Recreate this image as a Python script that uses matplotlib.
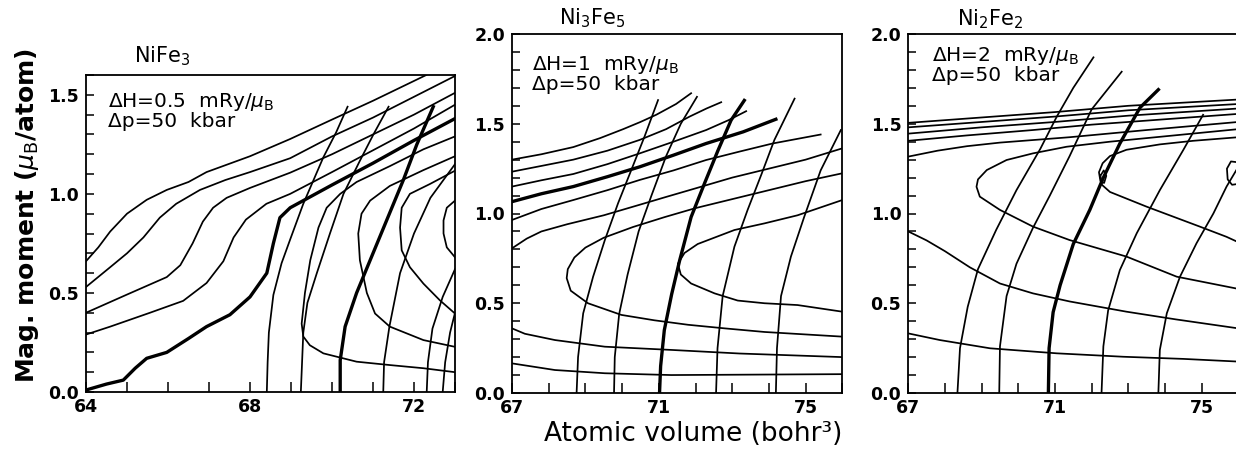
import matplotlib

matplotlib.use("Agg")
import matplotlib.pyplot as plt
from matplotlib.ticker import MultipleLocator

# --- NiFe3 panel (volume bohr^3, moment muB) ---------------------------------
# constant-field curves
nife3_h1 = [(64.0, 0.66), (64.3, 0.73), (64.59, 0.81), (65.0, 0.90), (65.48, 0.97), (65.97, 1.02),
            (66.5, 1.06), (66.94, 1.11), (68.0, 1.19), (68.98, 1.277), (70.0, 1.375), (71.0, 1.47),
            (72.3, 1.60)]
nife3_h2 = [(64.0, 0.53), (64.59, 0.63), (65.0, 0.70), (65.4, 0.78), (65.8, 0.88), (66.2, 0.95),
            (66.78, 1.02), (67.4, 1.07), (68.0, 1.11), (68.98, 1.18), (70.0, 1.29), (71.0, 1.385),
            (72.0, 1.49), (73.0, 1.595)]
nife3_h3 = [(64.0, 0.40), (64.98, 0.49), (65.97, 0.58), (66.3, 0.64), (66.6, 0.75), (66.85, 0.86),
            (67.1, 0.93), (67.43, 0.98), (68.0, 1.03), (68.98, 1.107), (70.0, 1.20), (71.0, 1.30),
            (72.0, 1.40), (73.0, 1.51)]
nife3_h4 = [(64.0, 0.29), (64.59, 0.33), (65.56, 0.40), (66.37, 0.46), (66.94, 0.55), (67.35, 0.66),
            (67.6, 0.78), (67.9, 0.87), (68.4, 0.95), (68.98, 1.0), (70.0, 1.11), (71.0, 1.22),
            (72.0, 1.33), (73.0, 1.45)]
nife3_h5 = [(64.0, 0.01), (64.5, 0.04), (64.91, 0.06), (65.2, 0.12), (65.48, 0.17), (65.97, 0.20),
            (66.5, 0.27), (66.94, 0.33), (67.51, 0.39), (68.0, 0.48), (68.41, 0.60), (68.57, 0.75),
            (68.73, 0.88), (68.98, 0.93), (70.0, 1.045), (71.0, 1.155), (72.0, 1.27), (73.0, 1.38)]
nife3_c1 = [(73.0, 1.29), (72.23, 1.225), (71.41, 1.14), (70.6, 1.06), (70.2, 1.0), (69.87, 0.93),
            (69.67, 0.83), (69.47, 0.665), (69.34, 0.50), (69.26, 0.345), (69.3, 0.28), (69.46, 0.236),
            (69.79, 0.195), (70.6, 0.153), (71.41, 0.136), (72.23, 0.12), (73.0, 0.10)]
nife3_c2 = [(73.0, 1.19), (72.23, 1.12), (71.41, 1.04), (70.93, 0.966), (70.72, 0.90), (70.64, 0.80),
            (70.68, 0.665), (70.85, 0.50), (71.05, 0.396), (71.41, 0.33), (72.23, 0.262), (73.0, 0.228)]
nife3_c3 = [(73.0, 1.117), (72.39, 1.05), (71.9, 1.0), (71.7, 0.93), (71.66, 0.83), (71.7, 0.715),
            (71.9, 0.63), (72.23, 0.547), (72.63, 0.463), (73.0, 0.396)]
nife3_c4 = [(73.0, 0.966), (72.8, 0.93), (72.72, 0.866), (72.72, 0.8), (72.8, 0.73), (73.0, 0.68)]
# constant-pressure curves
nife3_p1 = [(68.41, 0.0), (68.43, 0.15), (68.46, 0.30), (68.57, 0.49), (68.77, 0.65), (68.98, 0.77),
            (69.3, 0.95), (69.79, 1.185), (70.1, 1.31), (70.38, 1.44)]
nife3_p2 = [(69.24, 0.0), (69.27, 0.15), (69.3, 0.30), (69.4, 0.45), (69.63, 0.60), (69.95, 0.80),
            (70.28, 1.0), (70.68, 1.167), (71.01, 1.30), (71.38, 1.44)]
nife3_p3 = [(70.2, 0.0), (70.2, 0.16), (70.32, 0.33), (70.6, 0.50), (70.93, 0.665), (71.33, 0.865),
            (71.74, 1.07), (72.07, 1.25), (72.47, 1.44)]
nife3_p4 = [(71.25, 0.0), (71.27, 0.15), (71.4, 0.33), (71.66, 0.60), (72.0, 0.80), (72.4, 0.98),
            (73.0, 1.15)]
nife3_p5 = [(72.31, 0.0), (72.34, 0.15), (72.45, 0.32), (72.7, 0.48), (73.0, 0.62)]
nife3_p6 = [(72.7, 0.0), (72.76, 0.15), (72.88, 0.30), (73.0, 0.40)]

# --- Ni3Fe5 panel --------------------------------------------------------------
ni3fe5_h1 = [(67.0, 1.30), (67.8, 1.33), (68.67, 1.37), (69.4, 1.42), (70.03, 1.47), (70.5, 1.51),
             (70.93, 1.55), (71.47, 1.61), (71.88, 1.67)]
ni3fe5_h2 = [(67.0, 1.233), (67.8, 1.265), (68.67, 1.30), (69.6, 1.35), (70.48, 1.41), (71.2, 1.47),
             (71.84, 1.54), (72.3, 1.585), (72.7, 1.62)]
ni3fe5_h3 = [(67.0, 1.15), (67.8, 1.185), (68.67, 1.22), (69.6, 1.275), (70.48, 1.335), (71.4, 1.40),
             (72.29, 1.465), (72.9, 1.52), (73.38, 1.57)]
ni3fe5_h4 = [(67.0, 1.066), (67.8, 1.11), (68.67, 1.15), (69.6, 1.205), (70.48, 1.26), (71.4, 1.325),
             (72.29, 1.39), (73.3, 1.455), (74.19, 1.525)]
ni3fe5_h5 = [(67.0, 0.964), (67.8, 1.025), (68.67, 1.075), (69.6, 1.13), (70.48, 1.187), (71.4, 1.24),
             (72.29, 1.298), (73.2, 1.345), (74.1, 1.39), (75.41, 1.44)]
ni3fe5_h6 = [(67.0, 0.806), (67.4, 0.86), (67.8, 0.90), (68.5, 0.94), (69.5, 0.99), (70.5, 1.05),
             (71.16, 1.09), (72.0, 1.14), (73.0, 1.20), (74.0, 1.25), (75.0, 1.30), (76.0, 1.363)]
ni3fe5_c1 = [(76.0, 1.224), (75.0, 1.18), (74.2, 1.14), (73.0, 1.08), (72.0, 1.03), (71.16, 0.98),
             (70.3, 0.925), (69.5, 0.865), (69.0, 0.81), (68.7, 0.755), (68.52, 0.69), (68.49, 0.64),
             (68.6, 0.57), (69.07, 0.50), (69.98, 0.435), (70.88, 0.405), (71.8, 0.38), (72.8, 0.36),
             (73.88, 0.34), (76.0, 0.314)]
ni3fe5_c2 = [(76.0, 1.075), (74.78, 0.99), (73.88, 0.945), (73.06, 0.908), (72.06, 0.83), (71.7, 0.78),
             (71.52, 0.72), (71.6, 0.66), (71.88, 0.61), (72.52, 0.555), (73.15, 0.515), (73.88, 0.50),
             (74.78, 0.49), (76.0, 0.453)]
ni3fe5_l1 = [(67.0, 0.36), (67.35, 0.33), (68.17, 0.295), (69.53, 0.258), (71.34, 0.24), (73.2, 0.22),
             (76.0, 0.20)]
ni3fe5_l2 = [(67.0, 0.165), (68.17, 0.128), (69.53, 0.11), (71.34, 0.10), (76.0, 0.105)]
ni3fe5_p1 = [(68.76, 0.0), (68.8, 0.2), (68.94, 0.444), (69.21, 0.648), (69.53, 0.852), (69.89, 1.057),
             (70.25, 1.242), (70.61, 1.428), (70.98, 1.632)]
ni3fe5_p2 = [(69.78, 0.0), (69.8, 0.2), (69.92, 0.44), (70.15, 0.66), (70.45, 0.90), (70.8, 1.10),
             (71.2, 1.32), (71.6, 1.50), (72.04, 1.65)]
ni3fe5_p3 = [(71.02, 0.0), (71.05, 0.15), (71.15, 0.35), (71.35, 0.55), (71.57, 0.74), (71.88, 0.98),
             (72.25, 1.17), (72.61, 1.35), (72.97, 1.52), (73.33, 1.63)]
ni3fe5_p4 = [(72.56, 0.0), (72.6, 0.25), (72.74, 0.54), (73.06, 0.815), (73.42, 1.02), (73.8, 1.22),
             (74.15, 1.41), (74.7, 1.64)]
ni3fe5_p5 = [(74.19, 0.0), (74.22, 0.25), (74.33, 0.54), (74.6, 0.76), (74.96, 0.98), (75.41, 1.24),
             (75.96, 1.465)]

# --- Ni2Fe2 panel --------------------------------------------------------------
ni2fe2_h1 = [(67.0, 1.505), (69.0, 1.535), (71.0, 1.565), (73.0, 1.60), (76.0, 1.635)]
ni2fe2_h2 = [(67.0, 1.48), (69.0, 1.51), (71.0, 1.54), (73.0, 1.575), (76.0, 1.61)]
ni2fe2_h3 = [(67.0, 1.445), (69.0, 1.48), (71.0, 1.51), (73.0, 1.545), (76.0, 1.585)]
ni2fe2_h4 = [(67.0, 1.405), (68.6, 1.435), (70.4, 1.465), (72.0, 1.495), (74.0, 1.525), (76.0, 1.555)]
ni2fe2_h5 = [(67.0, 1.317), (67.8, 1.35), (68.6, 1.375), (69.5, 1.395), (71.4, 1.425), (73.5, 1.465),
             (76.0, 1.51)]
ni2fe2_c1 = [(76.0, 1.47), (74.0, 1.43), (72.5, 1.40), (71.32, 1.372), (70.4, 1.335), (69.68, 1.298),
             (69.14, 1.242), (68.9, 1.19), (68.86, 1.149), (68.95, 1.094), (69.5, 1.02), (70.4, 0.927),
             (71.4, 0.852), (72.95, 0.76), (74.32, 0.648), (76.0, 0.58)]
ni2fe2_c2 = [(76.0, 1.425), (74.77, 1.405), (73.86, 1.385), (72.95, 1.355), (72.5, 1.32), (72.3, 1.28),
             (72.2, 1.23), (72.24, 1.18), (72.34, 1.17), (72.4, 1.21), (72.33, 1.24), (72.24, 1.21),
             (72.28, 1.16), (72.5, 1.12), (73.5, 1.038), (74.95, 0.927), (75.68, 0.87), (76.0, 0.84)]
ni2fe2_c3 = [(76.0, 1.285), (75.8, 1.29), (75.69, 1.25), (75.71, 1.19), (75.83, 1.16), (76.0, 1.165)]
ni2fe2_l1 = [(67.0, 0.90), (67.5, 0.85), (68.0, 0.79), (68.68, 0.70), (69.5, 0.61), (70.4, 0.555),
             (71.4, 0.51), (72.95, 0.453), (74.3, 0.41), (76.0, 0.36)]
ni2fe2_l2 = [(67.0, 0.332), (67.86, 0.295), (69.23, 0.249), (71.05, 0.221), (72.86, 0.202),
             (74.5, 0.19), (76.0, 0.175)]
ni2fe2_p1 = [(68.34, 0.0), (68.41, 0.25), (68.62, 0.48), (68.9, 0.69), (69.4, 0.91), (69.95, 1.13),
             (70.6, 1.36), (71.05, 1.54), (71.5, 1.70), (72.05, 1.87)]
ni2fe2_p2 = [(69.48, 0.0), (69.5, 0.26), (69.68, 0.54), (69.95, 0.72), (70.4, 0.92), (70.86, 1.10),
             (71.4, 1.32), (72.0, 1.58), (72.82, 1.79)]
ni2fe2_p3 = [(70.82, 0.0), (70.84, 0.25), (70.95, 0.45), (71.14, 0.60), (71.5, 0.83), (71.95, 1.02),
             (72.32, 1.20), (72.77, 1.39), (73.32, 1.59), (73.82, 1.69)]
ni2fe2_p4 = [(72.27, 0.0), (72.32, 0.26), (72.45, 0.46), (72.77, 0.685), (73.23, 0.89), (73.86, 1.13),
             (74.5, 1.354), (75.04, 1.55)]
ni2fe2_p5 = [(73.82, 0.0), (73.86, 0.24), (74.05, 0.444), (74.41, 0.648), (74.86, 0.834), (75.32, 1.0),
             (75.68, 1.15), (76.0, 1.26)]

NIFE3_THIN = [nife3_h1, nife3_h2, nife3_h3, nife3_h4, nife3_c1, nife3_c2, nife3_c3, nife3_c4,
              nife3_p1, nife3_p2, nife3_p4, nife3_p5, nife3_p6]
NIFE3_BOLD = [nife3_h5, nife3_p3]
NI3FE5_THIN = [ni3fe5_h1, ni3fe5_h2, ni3fe5_h3, ni3fe5_h5, ni3fe5_h6, ni3fe5_c1, ni3fe5_c2,
               ni3fe5_l1, ni3fe5_l2, ni3fe5_p1, ni3fe5_p2, ni3fe5_p4, ni3fe5_p5]
NI3FE5_BOLD = [ni3fe5_h4, ni3fe5_p3]
NI2FE2_THIN = [ni2fe2_h1, ni2fe2_h2, ni2fe2_h3, ni2fe2_h4, ni2fe2_h5, ni2fe2_c1, ni2fe2_c2, ni2fe2_c3,
               ni2fe2_l1, ni2fe2_l2, ni2fe2_p1, ni2fe2_p2, ni2fe2_p4, ni2fe2_p5]
NI2FE2_BOLD = [ni2fe2_p3]

W, H = 1236, 449


def px_rect(left, top, right, bottom):
    return [left / W, (H - bottom) / H, (right - left) / W, (bottom - top) / H]


def draw(ax, thin, bold):
    for pts in thin:
        xs, ys = zip(*pts)
        ax.plot(xs, ys, color="black", linewidth=1.25, solid_joinstyle="round")
    for pts in bold:
        xs, ys = zip(*pts)
        ax.plot(xs, ys, color="black", linewidth=2.4, solid_joinstyle="round")


def style(ax, xlim, ylim, xticks):
    ax.set_xlim(*xlim)
    ax.set_ylim(*ylim)
    ax.set_xticks(xticks)
    ax.xaxis.set_minor_locator(MultipleLocator(1))
    ax.yaxis.set_major_locator(MultipleLocator(0.5))
    ax.yaxis.set_minor_locator(MultipleLocator(0.1))
    ax.yaxis.set_major_formatter(plt.FormatStrFormatter("%.1f"))
    ax.tick_params(which="both", direction="in", top=False, right=False, width=1.1, color="black")
    ax.tick_params(axis="x", which="both", length=7, pad=4)
    ax.tick_params(axis="y", which="both", length=5.5, pad=5)
    for lab in ax.get_xticklabels() + ax.get_yticklabels():
        lab.set_fontsize(12.5)
        lab.set_fontweight("bold")
    for sp in ax.spines.values():
        sp.set_linewidth(1.3)


def main() -> None:
    fig = plt.figure(figsize=(W / 100, H / 100), dpi=100)

    ax1 = fig.add_axes(px_rect(86, 75, 455, 392))
    draw(ax1, NIFE3_THIN, NIFE3_BOLD)
    style(ax1, (64, 73), (0, 1.6), [64, 68, 72])

    ax2 = fig.add_axes(px_rect(512, 34, 842.3, 393))
    draw(ax2, NI3FE5_THIN, NI3FE5_BOLD)
    style(ax2, (67, 76), (0, 2.0), [67, 71, 75])

    ax3 = fig.add_axes(px_rect(908.3, 34, 1238.3, 393))
    draw(ax3, NI2FE2_THIN, NI2FE2_BOLD)
    style(ax3, (67, 76), (0, 2.0), [67, 71, 75])

    note = dict(fontsize=14.5, va="top", ha="left", linespacing=0.95)
    ax1.text(0.06, 0.95, "ΔH=0.5  mRy/$\\mu_{\\rm B}$\nΔp=50  kbar", transform=ax1.transAxes, **note)
    ax2.text(0.06, 0.945, "ΔH=1  mRy/$\\mu_{\\rm B}$\nΔp=50  kbar", transform=ax2.transAxes, **note)
    ax3.text(0.073, 0.97, "ΔH=2  mRy/$\\mu_{\\rm B}$\nΔp=50  kbar", transform=ax3.transAxes, **note)

    title = dict(fontsize=15, ha="center", va="center")
    fig.text(162 / W, 1 - 56 / H, r"NiFe$_3$", **title)
    fig.text(592 / W, 1 - 18 / H, r"Ni$_3$Fe$_5$", **title)
    fig.text(990 / W, 1 - 19 / H, r"Ni$_2$Fe$_2$", **title)

    fig.text(27 / W, 1 - 216 / H, r"Mag. moment ($\mu_{\rm B}$/atom)", rotation=90,
             fontsize=18, fontweight="bold", ha="center", va="center")
    fig.text(693 / W, 1 - 441 / H, "Atomic volume (bohr³)", fontsize=19,
             ha="center", va="baseline")

    fig.savefig("out.png", dpi=100)
    plt.close(fig)


if __name__ == "__main__":
    main()
